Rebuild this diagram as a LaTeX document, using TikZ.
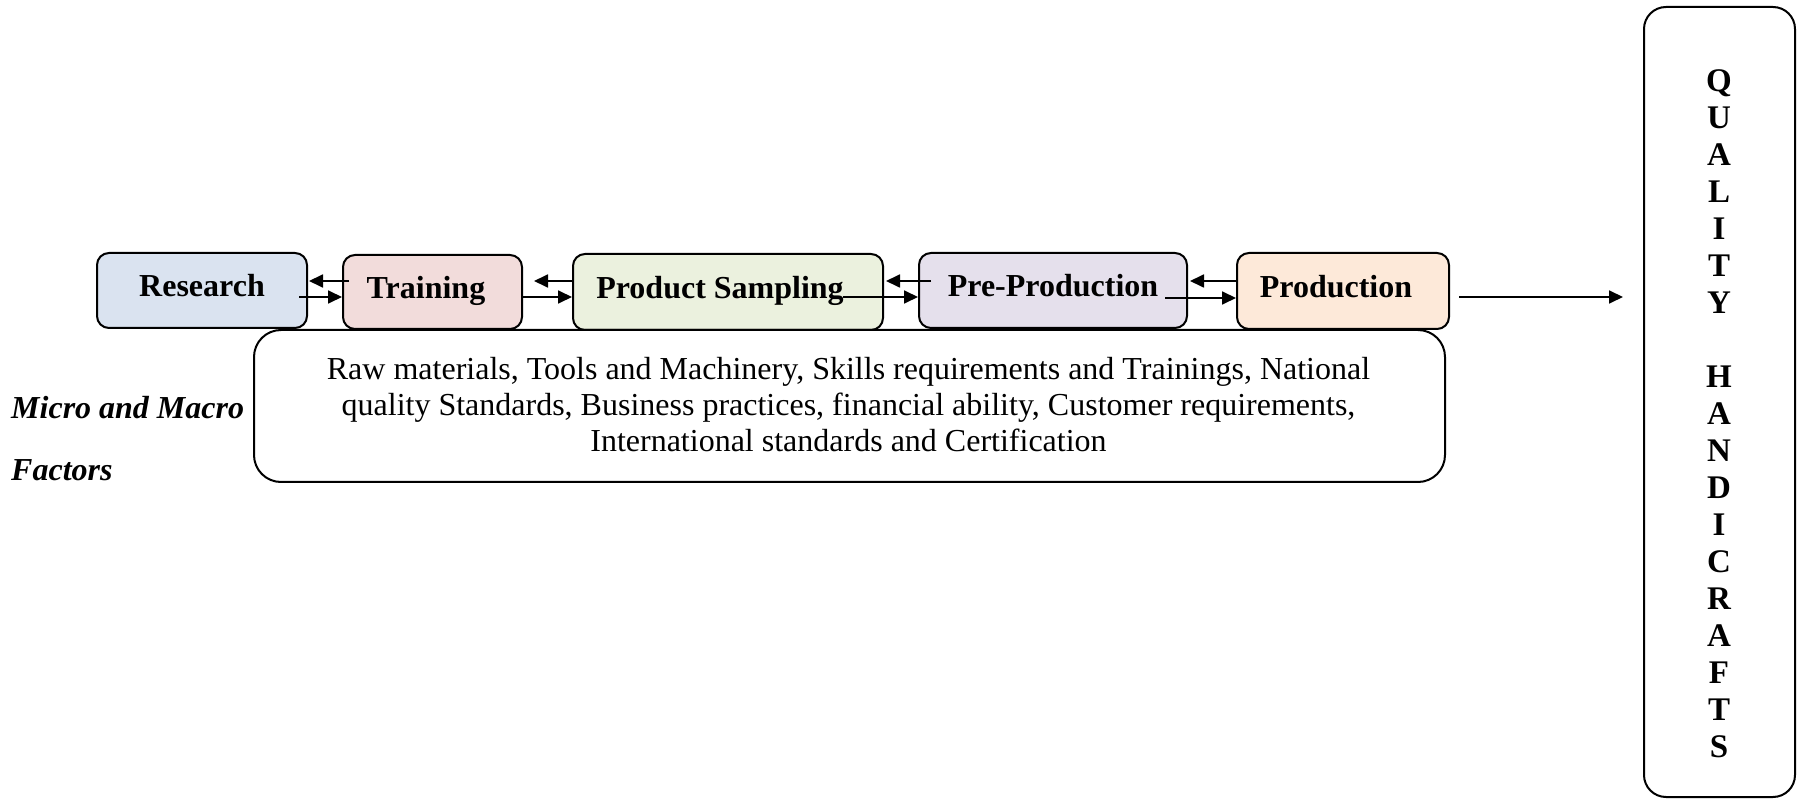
\documentclass[tikz,border=0pt]{standalone}
\usepackage{fontspec}
\setmainfont{Liberation Serif}
\usetikzlibrary{arrows.meta,calc}
\definecolor{cRes}{HTML}{DAE3F0}
\definecolor{cTra}{HTML}{F2DCDB}
\definecolor{cPS}{HTML}{EBF1DE}
\definecolor{cPre}{HTML}{E5E0EC}
\definecolor{cPro}{HTML}{FDE9D9}
\begin{document}
\begin{tikzpicture}[x=1pt,y=-1pt,
  proc/.style={draw, line width=2pt, rounded corners=12pt, inner sep=0pt,
    text height=20pt, text depth=7pt,
    font=\fontsize{32}{36}\selectfont\bfseries},
  bigbox/.style={draw, line width=2pt, inner sep=0pt},
  link/.style={line width=1.8pt, -{Triangle[length=14pt,width=13pt]}},
  sidelabel/.style={anchor=base west, inner sep=0pt,
    font=\fontsize{32}{36}\selectfont\bfseries\itshape}]
\useasboundingbox (0,0) rectangle (1800,799);
\coordinate (upY) at (0,281);
\coordinate (loY) at (0,297);
% process boxes
\node[proc, fill=cRes, minimum width=210pt, minimum height=75pt] (research) at (202,290.5) {Research};
\node[proc, fill=cTra, minimum width=179pt, minimum height=74pt] (training) at (432.5,292) {Training\rule{13pt}{0pt}};
\node[proc, fill=cPS, minimum width=310pt, minimum height=76pt] (ps) at (728,292) {Product Sampling\rule{16pt}{0pt}};
\node[proc, fill=cPre, minimum width=268pt, minimum height=75pt] (preprod) at (1053,290.5) {Pre-Production};
\node[proc, fill=cPro, minimum width=212pt, minimum height=76pt] (prod) at (1343,291) {Production\rule{14pt}{0pt}};
% factors box
\node[bigbox, rounded corners=27pt, minimum width=1191pt, minimum height=152pt] (factors) at (849.5,406) {};
\node[inner sep=0pt, align=center, font=\fontsize{32}{36}\selectfont] (factorstext) at (848.5,404.5)
  {Raw materials, Tools and Machinery, Skills requirements and Trainings, National\\
   quality Standards, Business practices, financial ability, Customer requirements,\\
   International standards and Certification};
% quality box
\node[bigbox, rounded corners=22pt, minimum width=151pt, minimum height=790pt] (quality) at (1719.5,402) {};
\node[inner sep=0pt, align=center, font=\fontsize{33}{37}\selectfont\bfseries] (qtext) at (1719,413.5)
  {Q\\U\\A\\L\\I\\T\\Y\\[37pt]H\\A\\N\\D\\I\\C\\R\\A\\F\\T\\S};
% side label
\node[sidelabel] (micro) at (11,418.5) {Micro and Macro};
\node[sidelabel] (factorslabel) at (11,480.5) {Factors};
% connectors
\draw[link] ($(training.west|-upY)+(7,0)$) -- ($(research.east|-upY)+(1,0)$);
\draw[link] ($(research.east|-loY)+(-9,0)$) -- (training.west|-loY);
\draw[link] (ps.west|-upY) -- ($(training.east|-upY)+(11,0)$);
\draw[link] (training.east|-loY) -- (ps.west|-loY);
\draw[link] ($(preprod.west|-upY)+(13,0)$) -- ($(ps.east|-upY)+(2,0)$);
\draw[link] ($(ps.east|-loY)+(-41,0)$) -- (preprod.west|-loY);
\draw[link] (prod.west|-upY) -- ($(preprod.east|-upY)+(2,0)$);
\draw[link] ($(preprod.east|-loY)+(-23,1)$) -- ($(prod.west|-loY)+(0,1)$);
\draw[link] ($(prod.east|-loY)+(9,0)$) -- ($(quality.west|-loY)+(-20,0)$);
\end{tikzpicture}
\end{document}
